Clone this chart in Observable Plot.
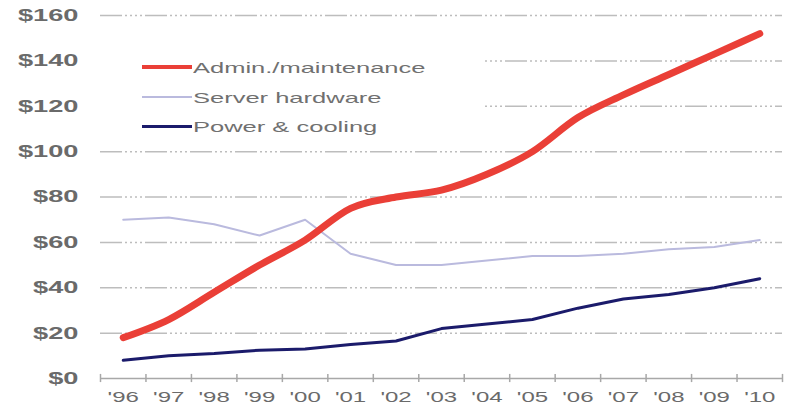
<!DOCTYPE html>
<html><head><meta charset="utf-8">
<script src="https://cdn.jsdelivr.net/npm/d3@7"></script>
<script src="https://cdn.jsdelivr.net/npm/@observablehq/plot@0.6"></script>
<style>
body{margin:0;background:#fff;}
#wrap{position:relative;width:785px;height:406px;}
#legend{position:absolute;left:100px;top:46px;width:385px;height:96px;background:#fff;}
.row{position:absolute;left:42px;height:20px;display:flex;align-items:center;}
.sw{width:50px;}
.lab{font-family:"Liberation Sans",Arial,sans-serif;font-size:15px;color:#707070;transform:scaleX(1.7);transform-origin:left center;white-space:nowrap;margin-left:1px;}
</style></head>
<body><div id="wrap"><div id="legend"></div></div>
<script>
const years = ["'96","'97","'98","'99","'00","'01","'02","'03","'04","'05","'06","'07","'08","'09","'10"];
const admin = [18, 26, 38, 50, 61, 75, 80, 83, 90, 100, 115, 125, 134, 143, 152];
const hardware = [70, 71, 68, 63, 70, 55, 50, 50, 52, 54, 54, 55, 57, 58, 61];
const power = [8, 10, 11, 12.5, 13, 15, 16.5, 22, 24, 26, 31, 35, 37, 40, 44];
const yTicks = [0, 20, 40, 60, 80, 100, 120, 140, 160];
const seriesNames = ["Admin./maintenance", "Server hardware", "Power & cooling"];
const seriesColors = ["#ea3f37", "#babade", "#1b1b6b"];
const seriesWidths = [7, 2, 3];

const idx = d3.range(years.length);
const boundaries = d3.range(years.length + 1).map(i => i - 0.5);
const font = "Liberation Sans, Arial, sans-serif";

const chart = Plot.plot({
  width: 785, height: 406,
  marginLeft: 100, marginRight: 3, marginTop: 15, marginBottom: 28,
  style: {fontFamily: font, background: "#fff"},
  x: {domain: [-0.5, years.length - 0.5], axis: null},
  y: {domain: [0, 160], axis: null},
  marks: [
    Plot.ruleY(yTicks.filter(d => d > 0), {stroke: "#bdbdbd", strokeWidth: 1.5, strokeDasharray: "22,3,2,3,2,3,2,3,2,3"}),
    Plot.ruleY([0], {stroke: "#a8a8a8", strokeWidth: 1.5}),
    Plot.ruleX(boundaries, {y1: -1.8, y2: 1.8, stroke: "#a8a8a8", strokeWidth: 1.5}),
    Plot.axisY(yTicks, {anchor: "left", tickSize: 0, tickPadding: 22, tickFormat: d => `$${d}`, fontSize: 17, fontWeight: "bold", fill: "#6a6a6a", fontFamily: font}),
    Plot.axisX(idx, {tickSize: 0, tickPadding: 13, tickFormat: i => years[i], fontSize: 15, fill: "#6a6a6a", fontFamily: font}),
    Plot.line(idx, {x: i => i, y: i => hardware[i], stroke: seriesColors[1], strokeWidth: seriesWidths[1]}),
    Plot.line(idx, {x: i => i, y: i => power[i], stroke: seriesColors[2], strokeWidth: seriesWidths[2]}),
    Plot.line(idx, {x: i => i, y: i => admin[i], stroke: seriesColors[0], strokeWidth: seriesWidths[0], curve: "monotone-x"})
  ]
});
const wrap = document.getElementById("wrap");
wrap.insertBefore(chart, wrap.firstChild);

// horizontally stretch axis labels like the reference
chart.querySelectorAll('g[aria-label="y-axis tick label"] text, g[aria-label="x-axis tick label"] text').forEach(t => {
  const len = t.getComputedTextLength();
  t.setAttribute("textLength", len * 1.6);
  t.setAttribute("lengthAdjust", "spacingAndGlyphs");
});

// legend
const legend = document.getElementById("legend");
const rowTops = [11, 41, 70];
seriesNames.forEach((name, k) => {
  const row = document.createElement("div");
  row.className = "row";
  row.style.top = rowTops[k] + "px";
  const sw = document.createElement("div");
  sw.className = "sw";
  sw.style.height = (k === 0 ? 4 : seriesWidths[k]) + "px";
  sw.style.background = seriesColors[k];
  const lab = document.createElement("span");
  lab.className = "lab";
  lab.textContent = name;
  row.appendChild(sw); row.appendChild(lab);
  legend.appendChild(row);
});
</script>
</body></html>
